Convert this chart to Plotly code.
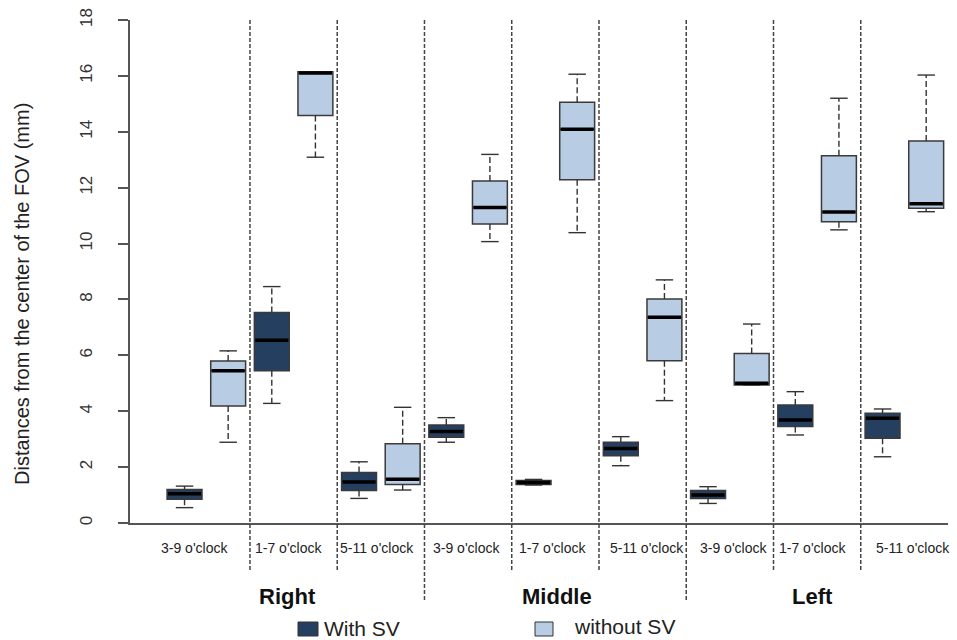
import plotly.graph_objects as go

# ---- data ----
regions = ["Right", "Middle", "Left"]
orientations = ["3-9 o'clock", "1-7 o'clock", "5-11 o'clock"]

# five-number summaries per category (Right 3-9, 1-7, 5-11, Middle ..., Left ...)
with_min = [0.55, 4.28, 0.88, 2.89, 1.36, 2.05, 0.70, 3.15, 2.37]
with_q1 = [0.85, 5.45, 1.16, 3.07, 1.38, 2.41, 0.88, 3.45, 3.03]
with_med = [1.05, 6.54, 1.47, 3.27, 1.45, 2.67, 1.00, 3.69, 3.75]
with_q3 = [1.20, 7.53, 1.81, 3.51, 1.52, 2.89, 1.16, 4.22, 3.93]
with_max = [1.32, 8.46, 2.19, 3.77, 1.56, 3.09, 1.30, 4.70, 4.08]

without_min = [2.89, 13.09, 1.18, 10.07, 10.39, 4.38, 4.94, 10.49, 11.14]
without_q1 = [4.19, 14.58, 1.38, 10.70, 12.28, 5.81, 4.94, 10.78, 11.26]
without_med = [5.45, 16.10, 1.57, 11.29, 14.09, 7.36, 5.00, 11.13, 11.42]
without_q3 = [5.80, 16.15, 2.84, 12.24, 15.06, 8.02, 6.07, 13.14, 13.67]
without_max = [6.16, 16.15, 4.14, 13.19, 16.06, 8.70, 7.12, 15.20, 16.03]

y_ticks = [0, 2, 4, 6, 8, 10, 12, 14, 16, 18]

# ---- styling / layout constants ----
DARK = "#243f60"
LIGHT = "#b8cce4"
EDGE = "#3a3a3a"
FONT = "Liberation Sans, Arial, sans-serif"
BOX_W = 0.8
CAP_HALF = 0.2

n = len(with_med)
x_with = [2 * i + 1 for i in range(n)]
x_without = [2 * i + 2 for i in range(n)]

fig = go.Figure()

def whisker_xy(xs, lo, q1, q3, hi):
    wx, wy, cx, cy = [], [], [], []
    for x, a, b, c, d in zip(xs, lo, q1, q3, hi):
        wx += [x, x, None, x, x, None]
        wy += [c, d, None, b, a, None]
        cx += [x - CAP_HALF, x + CAP_HALF, None, x - CAP_HALF, x + CAP_HALF, None]
        cy += [d, d, None, a, a, None]
    return wx, wy, cx, cy

allx = x_with + x_without
wx, wy, cx, cy = whisker_xy(allx, with_min + without_min, with_q1 + without_q1,
                            with_q3 + without_q3, with_max + without_max)
fig.add_trace(go.Scatter(x=wx, y=wy, mode="lines", showlegend=False, hoverinfo="skip",
                         line=dict(color="#333333", width=1.4, dash="6px,3px")))
fig.add_trace(go.Scatter(x=cx, y=cy, mode="lines", showlegend=False, hoverinfo="skip",
                         line=dict(color="#333333", width=1.4)))

for name, xs, q1, med, q3, fill in [
    ("With SV", x_with, with_q1, with_med, with_q3, DARK),
    ("without SV", x_without, without_q1, without_med, without_q3, LIGHT),
]:
    fig.add_trace(go.Box(
        name=name, x=xs, q1=q1, median=med, q3=q3, lowerfence=q1, upperfence=q3,
        width=BOX_W, whiskerwidth=0, fillcolor=fill,
        line=dict(color=EDGE, width=1.5), boxpoints=False, showlegend=False,
    ))

mx, my = [], []
for x, m in zip(allx, with_med + without_med):
    mx += [x - BOX_W / 2 + 0.02, x + BOX_W / 2 - 0.02, None]
    my += [m, m, None]
fig.add_trace(go.Scatter(x=mx, y=my, mode="lines", showlegend=False, hoverinfo="skip",
                         line=dict(color="black", width=3.5)))

# plot geometry in px (for paper conversions)
L, R, T, B = 130, 9, 20, 117
W, H = 957, 640
pw, ph = W - L - R, H - T - B

def py(Y):
    return (H - B - Y) / ph

def px(X):
    return (X - L) / pw

shapes = []
for k in range(8):
    xs = 2.5 + 2 * k
    long_line = (k in (2, 5))
    shapes.append(dict(type="line", xref="x", yref="paper", x0=xs, x1=xs,
                       y0=1.0, y1=py(602 if long_line else 572),
                       line=dict(color="#444444", width=1.5, dash="4px,2px")))

# legend swatches
shapes.append(dict(type="rect", xref="paper", yref="paper", x0=px(298), x1=px(318),
                   y0=py(636), y1=py(622), fillcolor=DARK, line=dict(color="#333", width=1)))
shapes.append(dict(type="rect", xref="paper", yref="paper", x0=px(535), x1=px(553),
                   y0=py(636), y1=py(622), fillcolor=LIGHT, line=dict(color="#333", width=1)))

annotations = []
label_pos = [1.22, 3.39, 5.41, 7.47, 9.44, 11.60, 13.59, 15.40, 17.69]
for i, xp in enumerate(label_pos):
    annotations.append(dict(x=xp, y=py(548), xref="x", yref="paper", showarrow=False,
                            text=orientations[i % 3], font=dict(family=FONT, size=14, color="#222"),
                            xanchor="center", yanchor="middle"))
region_pos = [3.35, 9.54, 15.40]
for r, xp in zip(regions, region_pos):
    annotations.append(dict(x=xp, y=py(597), xref="x", yref="paper", showarrow=False,
                            text="<b>%s</b>" % r, font=dict(family=FONT, size=22, color="#111"),
                            xanchor="center", yanchor="middle"))
annotations.append(dict(x=px(322), y=py(628), xref="paper", yref="paper", showarrow=False,
                        text="With SV", font=dict(family=FONT, size=21, color="#222"),
                        xanchor="left", yanchor="middle"))
annotations.append(dict(x=px(572), y=py(626), xref="paper", yref="paper", showarrow=False,
                        text="without SV", font=dict(family=FONT, size=21, color="#222"),
                        xanchor="left", yanchor="middle"))
annotations.append(dict(x=px(22), y=py(294), xref="paper", yref="paper", showarrow=False,
                        text="Distances from the center of the FOV (mm)", textangle=-90,
                        font=dict(family=FONT, size=20, color="#222"),
                        xanchor="center", yanchor="middle"))

fig.update_layout(
    width=W, height=H,
    margin=dict(l=L, r=R, t=T, b=B, pad=0),
    plot_bgcolor="white", paper_bgcolor="white",
    boxmode="overlay",
    showlegend=False,
    shapes=shapes,
    annotations=annotations,
    xaxis=dict(range=[-0.25, 18.5], showgrid=False, zeroline=False, showticklabels=False,
               ticks="", showline=True, linecolor="#555", linewidth=1.5),
    yaxis=dict(range=[0, 18], tickvals=y_ticks, showgrid=False, zeroline=False,
               showline=True, linecolor="#555", linewidth=1.5, ticks="outside",
               ticklen=10, tickcolor="#555", tickwidth=1.5, tickangle=-90,
               ticklabelstandoff=19,
               tickfont=dict(family=FONT, size=17, color="#333")),
)

fig.write_html("out.html")
